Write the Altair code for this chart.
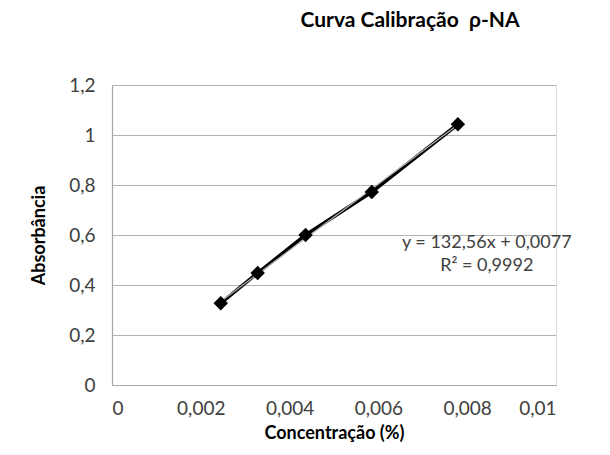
import altair as alt
import pandas as pd

conc = [0.00245, 0.00328, 0.00436, 0.00585, 0.00779]
absorb = [0.327, 0.448, 0.600, 0.772, 1.043]
eq_lines = ["y = 132,56x + 0,0077", "R² = 0,9992"]
eq_x = [0.00844, 0.00844]
eq_y = [0.568, 0.478]

df = pd.DataFrame({"x": conc, "y": absorb})
df_eq = pd.DataFrame({"x": eq_x, "y": eq_y, "t": eq_lines})

FONT = "Lato"
num = "replace(format(datum.value, '~g'), '.', ',')"

xenc = alt.X("x:Q", scale=alt.Scale(domain=[0, 0.01], nice=False),
             axis=alt.Axis(title="Concentração (%)", values=[0, 0.002, 0.004, 0.006, 0.008, 0.01],
                           labelExpr=num, grid=False, ticks=False, domainColor="#a6a6a6", domainWidth=1.2,
                           labelFont=FONT, labelFontSize=19, labelColor="#404040", labelPadding=14,
                           titleFont=FONT, titleFontSize=18, titleFontWeight="bold", titleColor="#000000",
                           titlePadding=6))
yenc = alt.Y("y:Q", scale=alt.Scale(domain=[0, 1.2], nice=False),
             axis=alt.Axis(title="Absorbância", values=[0, 0.2, 0.4, 0.6, 0.8, 1.0, 1.2],
                           labelExpr=num, grid=True, gridColor="#b3b3b3", gridWidth=1.2, ticks=False,
                           domainColor="#a6a6a6", domainWidth=1.2,
                           labelFont=FONT, labelFontSize=19, labelColor="#404040", labelPadding=17,
                           titleFont=FONT, titleFontSize=18, titleFontWeight="bold", titleColor="#000000",
                           titlePadding=20))

base = alt.Chart(df)
conn = base.mark_line(color="black", strokeWidth=3.5).encode(x=xenc, y=yenc)
trend = base.transform_regression("x", "y").mark_line(color="#b0b0b0", strokeWidth=1.2).encode(x="x:Q", y="y:Q")
pts = base.mark_point(shape="diamond", filled=True, color="black", size=210, opacity=1).encode(x="x:Q", y="y:Q")
eq = alt.Chart(df_eq).mark_text(font=FONT, fontSize=18, color="#404040", align="center", baseline="middle").encode(
    x="x:Q", y="y:Q", text="t:N")

chart = alt.layer(conn, trend, pts, eq).properties(
    width=444, height=300,
    title=alt.TitleParams("Curva Calibração\u00a0\u00a0ρ-NA", font=FONT, fontSize=21, fontWeight="bold",
                          color="#000000", anchor="middle", dx=76, offset=45),
    autosize=alt.AutoSizeParams(type="none"),
    padding={"left": 104, "top": 77, "right": 40, "bottom": 62},
).configure_view(stroke=None).configure(background="white")

chart.save("out.html", embed_options={"renderer": "svg", "actions": False})
